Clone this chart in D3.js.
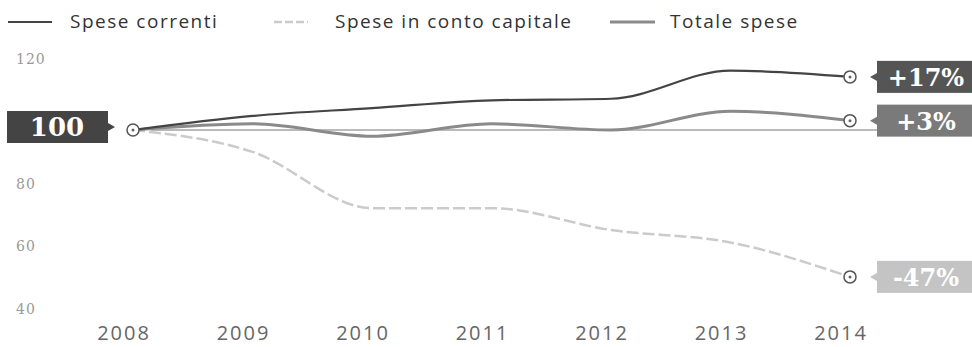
<!DOCTYPE html>
<html>
<head>
<meta charset="utf-8">
<script src="https://cdn.jsdelivr.net/npm/d3@7"></script>
<style>
  html, body { margin: 0; padding: 0; background: #fff; }
  svg { display: block; }
</style>
</head>
<body>
<svg width="972" height="347"></svg>
<script>
//--------------------------DATA------------------------------------------------
var years    = [2008, 2009, 2010, 2011, 2012, 2013, 2014];
var correnti = [100, 104.5, 107, 109.5, 110, 119, 117];
var capitale = [100, 93, 75, 75, 68, 64, 53];
var totale   = [100, 102, 98, 102, 100, 106, 103];
var seriesNames = ["Spese correnti", "Spese in conto capitale", "Totale spese"];
var endLabels = ["+17%", "-47%", "+3%"];
var yTicks = [40, 60, 80, 120];
var baseValue = 100;

//--------------------------SETUP-----------------------------------------------
var svg = d3.select("svg");
var serif = "'DejaVu Serif', 'Liberation Serif', serif";
var sans = "'Open Sans', 'DejaVu Sans', sans-serif";

var x = d3.scaleLinear().domain([2008, 2014]).range([133, 850]);
var y = d3.scaleLinear().domain([40, 120]).range([317.5, 67.5]);

var series = [
    { name: seriesNames[0], values: correnti, color: "#444", width: 2.2, dash: null,   label: endLabels[0], box: "#555" },
    { name: seriesNames[1], values: capitale, color: "#cbcbcb", width: 2.5, dash: "12 4", label: endLabels[1], box: "#c4c4c4" },
    { name: seriesNames[2], values: totale,   color: "#8a8a8a", width: 3, dash: null,   label: endLabels[2], box: "#7a7a7a" }
];

var line = d3.line()
    .x(function(d) { return x(d.year); })
    .y(function(d) { return y(d.value); })
    .curve(d3.curveMonotoneX);

function points(values) {
    return values.map(function(v, i) { return { year: years[i], value: v }; });
}

//--------------------------LEGEND----------------------------------------------
var legendX = [[8, 52, 70], [274, 308, 335], [610, 655, 670]];
var legend = svg.append("g");
series.forEach(function(s, i) {
    legend.append("line")
        .attr("x1", legendX[i][0]).attr("x2", legendX[i][1])
        .attr("y1", 22).attr("y2", 22)
        .style("stroke", s.color)
        .style("stroke-width", s.width)
        .style("stroke-dasharray", s.dash ? "8 3" : null);
    legend.append("text")
        .attr("x", legendX[i][2]).attr("y", 28)
        .style("font-family", sans)
        .style("font-size", "19px")
        .style("letter-spacing", "1.5px")
        .style("fill", "#333")
        .text(s.name);
});

//--------------------------AXES------------------------------------------------
svg.append("g").selectAll("text")
    .data(yTicks)
    .enter().append("text")
    .attr("x", 16)
    .attr("y", function(d) { return y(d) - 4; })
    .style("font-family", serif)
    .style("font-size", "14px")
    .style("letter-spacing", "1px")
    .style("fill", "#999")
    .text(function(d) { return d; });

svg.append("g").selectAll("text")
    .data(years)
    .enter().append("text")
    .attr("x", function(d) { return x(d) - 9; })
    .attr("y", 340)
    .style("text-anchor", "middle")
    .style("font-family", sans)
    .style("font-size", "20px")
    .style("letter-spacing", "2px")
    .style("fill", "#666")
    .text(function(d) { return d; });

//--------------------------LINES-----------------------------------------------
// reference line at 100
svg.append("line")
    .attr("x1", x(2008) + 18).attr("x2", 877)
    .attr("y1", y(baseValue)).attr("y2", y(baseValue))
    .style("stroke", "#777")
    .style("stroke-width", 1);

[1, 2, 0].forEach(function(i) {
    var s = series[i];
    svg.append("path")
        .attr("d", line(points(s.values)))
        .style("fill", "none")
        .style("stroke", s.color)
        .style("stroke-width", s.width)
        .style("stroke-dasharray", s.dash);
});

//--------------------------MARKERS---------------------------------------------
function marker(cx, cy) {
    svg.append("circle")
        .attr("cx", cx).attr("cy", cy).attr("r", 6)
        .style("fill", "#fff")
        .style("stroke", "#555")
        .style("stroke-width", 1.5);
    svg.append("circle")
        .attr("cx", cx).attr("cy", cy).attr("r", 1.5)
        .style("fill", "#666");
}
marker(x(2008), y(baseValue));
series.forEach(function(s) {
    marker(x(2014), y(s.values[s.values.length - 1]));
});

//--------------------------LABEL BOXES-----------------------------------------
// start box "100"
var by = y(baseValue) - 3;
svg.append("rect")
    .attr("x", 7).attr("y", by - 16).attr("width", 101).attr("height", 32)
    .style("fill", "#444");
svg.append("path")
    .attr("d", "M108," + (by - 4) + "L115," + by + "L108," + (by + 4) + "Z")
    .style("fill", "#444");
svg.append("text")
    .attr("x", 57).attr("y", by + 9)
    .style("text-anchor", "middle")
    .style("font-family", serif)
    .style("font-weight", "bold")
    .style("font-size", "26px")
    .style("fill", "#fff")
    .text(baseValue);

// end boxes
series.forEach(function(s) {
    var cy = y(s.values[s.values.length - 1]);
    svg.append("rect")
        .attr("x", 877).attr("y", cy - 16).attr("width", 95).attr("height", 32)
        .style("fill", s.box);
    svg.append("path")
        .attr("d", "M877," + (cy - 4) + "L870," + cy + "L877," + (cy + 4) + "Z")
        .style("fill", s.box);
    svg.append("text")
        .attr("x", 926).attr("y", cy + 9)
        .style("text-anchor", "middle")
        .style("font-family", serif)
        .style("font-weight", "bold")
        .style("font-size", "24px")
        .style("fill", "#fff")
        .text(s.label);
});
</script>
</body>
</html>
